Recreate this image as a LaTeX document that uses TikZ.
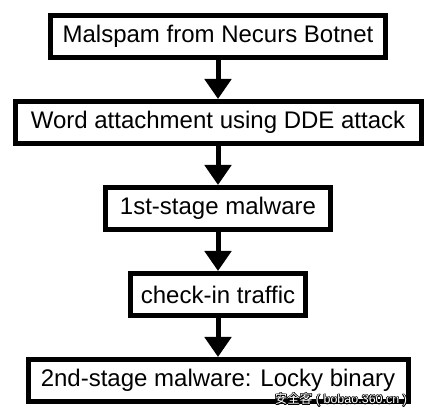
\documentclass[tikz,border=0pt]{standalone}
\usepackage{fontspec}
\setmainfont{Liberation Sans}
\newfontfamily\cjkfont{Noto Sans CJK SC}
\usepackage{contour}
\contourlength{0.6pt}
\usetikzlibrary{positioning,arrows.meta}

\tikzset{
    stagebox/.style={draw, line width=5pt, minimum height=42pt, inner sep=0pt,
        font=\fontsize{24}{28}\selectfont},
    flowarrow/.style={line width=5pt, -{Triangle[width=26pt,length=20pt]}}
}

\begin{document}
\begin{tikzpicture}[x=1pt, y=1pt, node distance=39pt]
    \useasboundingbox (0,0) rectangle (434,-419);
    \node[stagebox, minimum width=335pt] (malspam) at (218,-36.5) {Malspam from Necurs Botnet};
    \node[stagebox, minimum width=406pt, below=of malspam] (word) {Word attachment using DDE attack};
    \node[stagebox, minimum width=225pt, below=of word] (first) {1st-stage malware};
    \node[stagebox, minimum width=175pt, below=of first] (checkin) {check-in traffic};
    \node[stagebox, minimum width=380pt, below=of checkin] (second) {2nd-stage malware: Locky binary};
    \draw[flowarrow] (malspam) -- (word);
    \draw[flowarrow] (word) -- (first);
    \draw[flowarrow] (first) -- (checkin);
    \draw[flowarrow] (checkin) -- (second);
    % watermark
    \node[font=\fontsize{12.5}{14}\selectfont] (mark) at (341,-400)
        {\contour{black}{\textcolor{white}{{\cjkfont 安全客} ( bobao.360.cn )}}};
\end{tikzpicture}
\end{document}
